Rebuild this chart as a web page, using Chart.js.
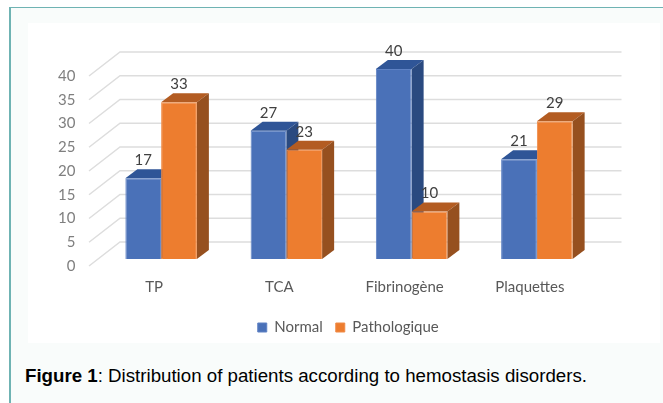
<!DOCTYPE html>
<html>
<head>
<meta charset="utf-8">
<title>Figure 1</title>
<script src="https://cdn.jsdelivr.net/npm/chart.js@4"></script>
<style>
    html, body { margin: 0; padding: 0; background: #fff; }
    #card {
        position: absolute; left: 9px; top: 7px; width: 654px; height: 396px;
        background: #f9fcfb; border-left: 2px solid #6fb3b3; border-top: 1px solid #6fb3b3;
    }
    #panel { position: absolute; left: 28px; top: 23px; width: 632px; height: 320px; background: #fff; }
    #caption {
        position: absolute; left: 25px; top: 365px; color: #000; white-space: nowrap;
        font: 18.7px "Liberation Sans", sans-serif;
    }
</style>
</head>
<body>
<div id="card"></div>
<div id="panel"><canvas id="chart" width="632" height="320"></canvas></div>
<div id="caption"><b>Figure 1</b>: Distribution of patients according to hemostasis disorders.</div>
<script>
const categories = ['TP', 'TCA', 'Fibrinogène', 'Plaquettes'];
const normalValues = [17, 27, 40, 21];
const pathologiqueValues = [33, 23, 10, 29];

const chartFont = 'Lato';

// colours of the front, top and side faces
const faces = {
    Normal: { front: '#4a71b8', top: '#2f5597', side: '#2a4a80' },
    Pathologique: { front: '#ed7d2f', top: '#b35c22', side: '#96501f' }
};

function face(ctx, color, points) {
    ctx.fillStyle = color;
    ctx.beginPath();
    points.forEach((p, i) => i ? ctx.lineTo(p[0], p[1]) : ctx.moveTo(p[0], p[1]));
    ctx.closePath();
    ctx.fill();
}

// Fakes the 3D look of the original: back wall, bar depth, value labels
const fake3d = {
    id: 'fake3d',
    afterLayout(chart) {
        // legend sits under the whole panel, not just the plot
        const legend = chart.legend;
        legend.left += 38;
        legend.right += 38;
        legend.top += 2;
        legend.bottom += 2;
    },
    beforeDatasetsDraw(chart) {
        const ctx = chart.ctx;
        const y = chart.scales.y;
        const x = chart.scales.x;
        ctx.save();
        ctx.strokeStyle = '#dddddd';
        ctx.lineWidth = 1.5;
        y.ticks.forEach(tick => {
            const py = y.getPixelForValue(tick.value);
            ctx.beginPath();
            ctx.moveTo(x.left - 2.5, py);
            ctx.lineTo(x.left + 28.5, py - 24);
            ctx.lineTo(x.right + 29, py - 24);
            ctx.stroke();
        });
        ctx.restore();

        // Normal has to go first so that Pathologique covers its side face
        ctx.save();
        ctx.translate(7, -7);
        chart.data.datasets.forEach((ds, i) => {
            const colors = faces[ds.label];
            chart.getDatasetMeta(i).data.forEach(bar => {
                const p = bar.getProps(['x', 'y', 'base', 'width'], true);
                const l = p.x - p.width / 2;
                const r = p.x + p.width / 2;
                face(ctx, colors.top, [[l, p.y], [l + 12, p.y - 9], [r + 12, p.y - 9], [r, p.y]]);
                face(ctx, colors.side, [[r, p.y], [r + 12, p.y - 9], [r + 12, p.base - 9], [r, p.base]]);
                bar.draw(ctx);
            });
        });
        ctx.restore();
    },
    // the bars are already drawn above
    beforeDatasetDraw() {
        return false;
    },
    afterDatasetsDraw(chart) {
        const ctx = chart.ctx;
        ctx.save();
        ctx.font = '15px ' + chartFont;
        ctx.fillStyle = '#404040';
        ctx.textAlign = 'center';
        ctx.textBaseline = 'middle';
        chart.data.datasets.forEach((ds, i) => {
            chart.getDatasetMeta(i).data.forEach((bar, j) => {
                ctx.fillText(ds.data[j], bar.x + 7, bar.y - 25);
            });
        });
        ctx.restore();
    }
};

new Chart(document.getElementById('chart'), {
    type: 'bar',
    data: {
        labels: categories,
        datasets: [
            {
                label: 'Normal',
                data: normalValues,
                backgroundColor: faces.Normal.front,
                borderColor: '#5f82c4',
                borderWidth: 1
            },
            {
                label: 'Pathologique',
                data: pathologiqueValues,
                backgroundColor: faces.Pathologique.front,
                borderColor: '#f08c48',
                borderWidth: 1
            }
        ]
    },
    options: {
        responsive: false,
        animation: false,
        categoryPercentage: 0.571,
        barPercentage: 1,
        layout: { padding: { left: 0, right: 67.5, top: 53, bottom: 0 } },
        plugins: {
            title: { display: false },
            tooltip: { enabled: false },
            legend: {
                position: 'bottom',
                labels: {
                    boxWidth: 9,
                    boxHeight: 9,
                    padding: 13,
                    color: '#595959',
                    font: { family: chartFont, size: 15 }
                }
            }
        },
        scales: {
            x: {
                grid: { display: false },
                border: { display: false },
                afterFit(scale) { scale.height = 39; },
                ticks: {
                    padding: 4,
                    color: '#595959',
                    maxRotation: 0,
                    font: { family: chartFont, size: 15 }
                }
            },
            y: {
                min: 0,
                max: 40,
                grid: { display: false },
                border: { display: false },
                afterFit(scale) { scale.width = 63.5; },
                ticks: {
                    stepSize: 5,
                    padding: 8,
                    color: '#7f7f7f',
                    font: { family: chartFont, size: 15 }
                }
            }
        }
    },
    plugins: [fake3d]
});
</script>
</body>
</html>
